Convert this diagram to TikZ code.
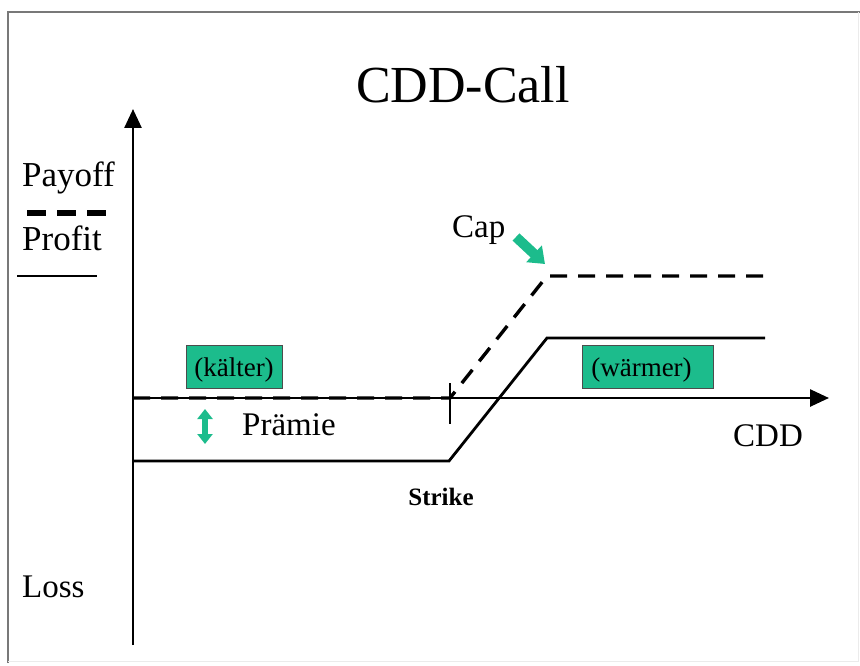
\documentclass[tikz,border=0pt]{standalone}
\usepackage{fontspec}
\setmainfont{Liberation Serif}
\usetikzlibrary{arrows.meta}
\definecolor{teal}{RGB}{28,188,140}
\definecolor{framegray}{RGB}{120,120,120}
\newcommand{\fs}[1]{\fontsize{#1}{#1}\selectfont}
\tikzset{
  axis/.style={line width=2.6pt, -{Triangle[width=17pt,length=19pt]}},
  payoff/.style={line width=3.4pt, dash pattern=on 17pt off 11pt},
  profit/.style={line width=2.8pt},
  label/.style={inner sep=0pt, anchor=base west},
  regionbox/.style={draw=black!70, line width=0.6pt, fill=teal, inner sep=0pt,
    minimum height=43pt, text height=20pt, text depth=0pt, font=\fs{27}},
  greenarrow/.style={draw=teal, line width=10pt, -{Triangle[width=22pt,length=15pt]}},
  greendouble/.style={draw=teal, line width=6pt,
    {Triangle[width=15pt,length=10pt]}-{Triangle[width=15pt,length=10pt]}},
}
\begin{document}
\begin{tikzpicture}[x=1pt,y=-1pt]
  \useasboundingbox (0,0) rectangle (860,666);
  % frame
  \draw[framegray, line width=2pt] (8,663) -- (8,12) -- (860,12);
  \draw[black!8, line width=1pt] (8,661) -- (858,661) -- (858,12);

  % title
  \node[inner sep=0pt, anchor=base] (title) at (463,103) {\fs{52}CDD-Call};

  % axes
  \coordinate (origin) at (133,398);
  \coordinate (ybottom) at (133,645);
  \coordinate (ytop) at (133,109);
  \coordinate (xend) at (829,398);
  \draw[axis] (ybottom) -- (ytop);
  \draw[axis] (origin) -- (xend);

  % legend
  \node[label] (payofflbl) at (22,187) {\fs{35}Payoff};
  \coordinate (lgA) at (27,213);
  \coordinate (lgB) at (108,213);
  \draw[line width=5pt, dash pattern=on 19pt off 11pt] (lgA) -- (lgB);
  \node[label] (profitlbl) at (22,250) {\fs{35}Profit};
  \coordinate (lsA) at (17,276);
  \coordinate (lsB) at (97,276);
  \draw[line width=2.8pt] (lsA) -- (lsB);
  \node[label] (losslbl) at (22,597) {\fs{33}Loss};

  % payoff (dashed)
  \coordinate (p0) at (133,398);
  \coordinate (p1) at (450,398);
  \coordinate (p2) at (547,276);
  \coordinate (p3) at (765,276);
  \draw[payoff] (p0) -- (p1) -- (p2) -- (p3);

  % profit (solid)
  \coordinate (q0) at (133,461);
  \coordinate (q1) at (449,461);
  \coordinate (q2) at (547,338);
  \coordinate (q3) at (765,338);
  \draw[profit, line join=miter] (q0) -- (q1) -- (q2) -- (q3);

  % strike tick
  \coordinate (tickT) at (450,383);
  \coordinate (tickB) at (450,424);
  \draw[line width=2pt] (tickT) -- (tickB);
  \node[inner sep=0pt, anchor=base] (strike) at (441,505) {\fs{25}\bfseries Strike};

  % region boxes
  \node[regionbox, minimum width=96pt] (cold) at (234,366.5) {(kälter)};
  \node[regionbox, minimum width=131pt] (warm) at (647.5,366.5) {\hspace*{-12pt}(wärmer)};

  % labels
  \node[label] (cdd) at (733,446) {\fs{33}CDD};
  \node[label] (praemie) at (242,435) {\fs{33}Prämie};
  \node[label] (cap) at (452,237) {\fs{33}Cap};

  % green markers
  \coordinate (capA) at (516,237);
  \coordinate (capB) at (545,264);
  \draw[greenarrow] (capA) -- (capB);
  \coordinate (prA) at (205,409);
  \coordinate (prB) at (205,444);
  \draw[greendouble] (prA) -- (prB);
\end{tikzpicture}
\end{document}
